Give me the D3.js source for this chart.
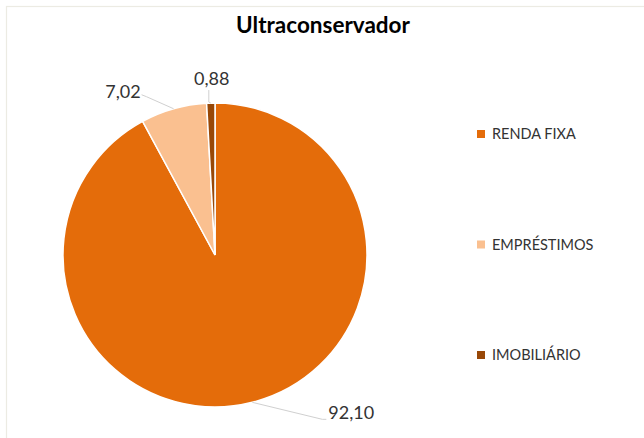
<!DOCTYPE html>
<html>
<head>
<meta charset="utf-8">
<script src="https://cdn.jsdelivr.net/npm/d3@7"></script>
<style>
  body { margin: 0; background: #fff; }
  svg { display: block; font-family: Lato, "Open Sans", sans-serif; }
</style>
</head>
<body>
<svg id="chart" width="644" height="438"></svg>
<script>
// dados
var categorias = ["RENDA FIXA", "EMPRÉSTIMOS", "IMOBILIÁRIO"];
var valores = [92.10, 7.02, 0.88];
var cores = ["#E46C0A", "#FAC090", "#984807"];

var svg = d3.select("#chart");
var cx = 215, cy = 255, raio = 152;

// moldura clara do gráfico
svg.append("rect")
  .attr("x", 6.5).attr("y", 6.5)
  .attr("width", 700).attr("height", 500)
  .attr("fill", "none")
  .attr("stroke", "#ecebe3")
  .attr("stroke-width", 1.2);

svg.append("text")
  .attr("x", 323).attr("y", 33)
  .attr("text-anchor", "middle")
  .style("font-weight", "bold")
  .style("font-size", "22.5px")
  .attr("fill", "#000")
  .text("Ultraconservador");

var dados = categorias.map(function(c, i) {
  return { nome: c, valor: valores[i], cor: cores[i] };
});

var pie = d3.pie().sort(null).value(function(d) { return d.valor; });
var arc = d3.arc().innerRadius(0).outerRadius(raio);
var fatias = pie(dados);

var g = svg.append("g").attr("transform", "translate(" + cx + "," + cy + ")");

g.selectAll("path.fatia")
  .data(fatias)
  .enter()
  .append("path")
  .attr("class", "fatia")
  .attr("d", arc)
  .attr("fill", function(d) { return d.data.cor; })
  .attr("stroke", "#fff")
  .attr("stroke-width", 1.5);

// rótulos com linhas de chamada (deslocamento a partir da borda da fatia)
var chamadas = [
  { pontos: [[70, 17], [74, 17]], texto: [76, 17], anchor: "start" },
  { pontos: [[-27, -12], [-32, -14]], texto: [-33, -11], anchor: "end" },
  { pontos: [[-2, -1], [-2, -13]], texto: [1, -18], anchor: "middle" }
];

function borda(d) {
  var a = (d.startAngle + d.endAngle) / 2;
  return [raio * Math.sin(a), -raio * Math.cos(a)];
}

var fmt = function(v) { return v.toFixed(2).replace(".", ","); };

fatias.forEach(function(d, i) {
  var p0 = borda(d);
  var c = chamadas[i];
  var pts = [p0].concat(c.pontos.map(function(p) { return [p0[0] + p[0], p0[1] + p[1]]; }));
  g.append("path")
    .attr("d", d3.line()(pts))
    .attr("fill", "none")
    .attr("stroke", "#d0d0d0")
    .attr("stroke-width", 1);
  g.append("text")
    .attr("x", p0[0] + c.texto[0])
    .attr("y", p0[1] + c.texto[1])
    .attr("text-anchor", c.anchor)
    .style("font-size", "18px")
    .attr("fill", "#333")
    .text(fmt(d.data.valor));
});

// legenda
var legenda = svg.append("g");
var ly = d3.scalePoint().domain(categorias).range([134, 355]);

categorias.forEach(function(c, i) {
  legenda.append("rect")
    .attr("x", 477).attr("y", ly(c) - 4)
    .attr("width", 8).attr("height", 8)
    .attr("fill", cores[i]);
  legenda.append("text")
    .attr("x", 492).attr("y", ly(c))
    .attr("dy", "0.36em")
    .style("font-size", "14.5px")
    .attr("fill", "#333")
    .text(c);
});
</script>
</body>
</html>
